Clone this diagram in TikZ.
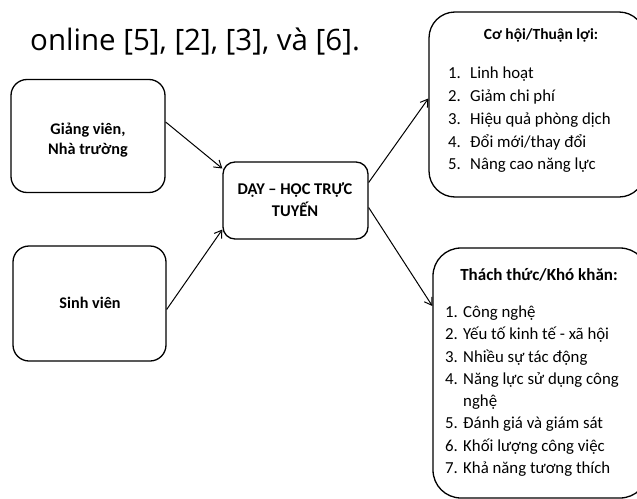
\documentclass[tikz,border=0pt]{standalone}
\usepackage{fontspec}
\setmainfont{Carlito}
\newfontfamily\titlefont{Open Sans}
\usetikzlibrary{arrows.meta}
\tikzset{
  box/.style={draw, line width=1.3pt, rounded corners=#1, inner sep=0pt},
  arr/.style={line width=1pt, -{Straight Barb[length=7pt,width=9pt,line width=1pt]}},
  btxt/.style={font=\bfseries\fontsize{16.2}{20}\selectfont, align=center},
  itemA/.style={anchor=base west, font=\fontsize{16.8}{18}\selectfont, inner sep=0pt},
}
\begin{document}
\begin{tikzpicture}[x=1pt,y=-1pt]
\clip (0,0) rectangle (637,498);
\fill[white] (0,0) rectangle (637,498);
% title
\node[anchor=base west, inner sep=0pt, font=\titlefont\fontsize{29.5}{32}\selectfont] (title) at (30,50) {online [5], [2], [3], và [6].};
% left boxes
\node[box=16pt, minimum width=154pt, minimum height=113pt] (gv) at (88,136) {};
\node[btxt] (gvt) at (88,140) {Giảng viên,\\Nhà trường};
\node[box=16pt, minimum width=153pt, minimum height=115pt] (sv) at (89.5,303.5) {};
\node[btxt] (svt) at (90,303) {Sinh viên};
% center
\node[box=12pt, minimum width=145pt, minimum height=77pt] (c) at (295.5,200.5) {};
\node[btxt, font=\bfseries\fontsize{16.4}{22}\selectfont] (ct) at (295,200) {DẠY – HỌC TRỰC\\TUYẾN};
% right boxes
\node[box=26pt, minimum width=216pt, minimum height=185pt] (b1) at (537,104.5) {};
\node[font=\bfseries\fontsize{15.5}{17}\selectfont] (b1h) at (541,35) {Cơ hội/Thuận lợi:};
\foreach \n/\t/\y in {1/Linh hoạt/78, 2/Giảm chi phí/101.5, 3/Hiệu quả phòng dịch/124.5, 4/{Đổi mới/thay đổi}/147, 5/Nâng cao năng lực/169.5}{
  \node[itemA] (b1n\n) at (448,\y) {\n.};
  \node[itemA] (b1t\n) at (470,\y) {\t};
}
\node[box=28pt, minimum width=215pt, minimum height=250pt] (b2) at (540.5,373) {};
\node[font=\bfseries\fontsize{17}{19}\selectfont] (b2h) at (539,275) {Thách thức/Khó khăn:};
\foreach \k/\n/\t/\y in {1/1./Công nghệ/317, 2/2./Yếu tố kinh tế - xã hội/339.5, 3/3./Nhiều sự tác động/362, 4/4./Năng lực sử dụng công/384, 5//nghệ/406, 6/5./Đánh giá và giám sát/428, 7/6./Khối lượng công việc/451, 8/7./Khả năng tương thích/473}{
  \node[itemA] (b2n\k) at (445,\y) {\n};
  \node[itemA] (b2t\k) at (463,\y) {\t};
}
% arrows
\draw[arr] ([yshift=14pt]gv.east) -- ([yshift=32pt]c.west);
\draw[arr] ([yshift=-6pt]sv.east) -- ([yshift=-29pt]c.west);
\draw[arr] ([yshift=18pt]c.east) -- ([yshift=6pt]b1.west);
\draw[arr] ([yshift=-7pt]c.east) -- ([yshift=67pt]b2.west);
\end{tikzpicture}
\end{document}
